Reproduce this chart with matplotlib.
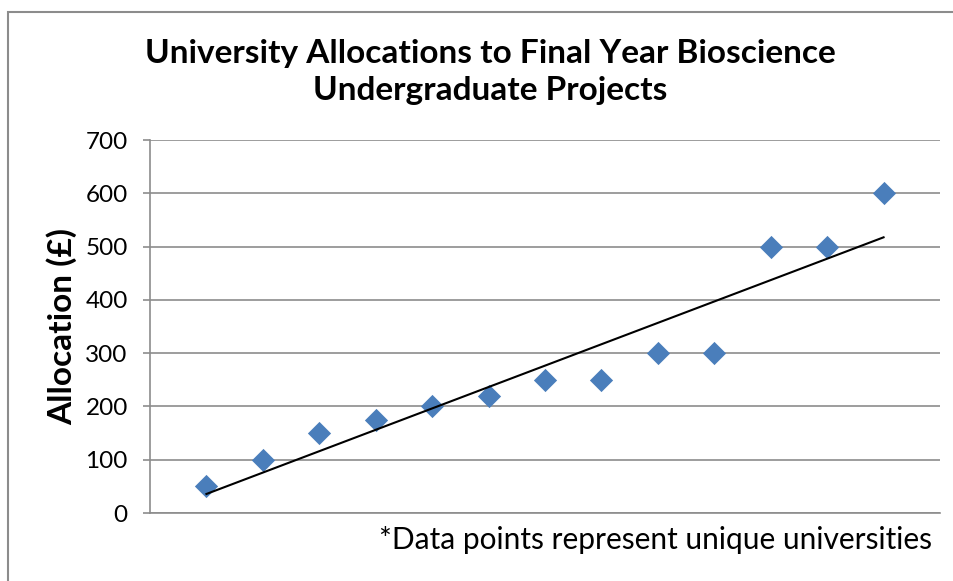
import matplotlib
matplotlib.use("Agg")
import matplotlib.pyplot as plt
import numpy as np
from matplotlib.patches import Rectangle

plt.rcParams['font.family'] = ['Lato', 'DejaVu Sans']

x_index = list(range(1, 14))
allocations = [50, 100, 150, 175, 200, 220, 250, 250, 300, 300, 500, 500, 600]
y_ticks = [0, 100, 200, 300, 400, 500, 600, 700]

title = "University Allocations to Final Year Bioscience\nUndergraduate Projects"
ylabel = "Allocation (£)"
note = "*Data points represent unique universities"

fig = plt.figure(figsize=(9.54, 5.81), dpi=100)
fig.patches.append(Rectangle((8/954, -0.1), 1.2, 1.1 - 12/581, transform=fig.transFigure,
                             fill=False, edgecolor='#8c8c8c', linewidth=1.5))
ax = fig.add_axes([150/954, 1-513/581, (940-150)/954, (513-140)/581])

ax.set_xlim(0, 14)
ax.set_ylim(0, 700)
ax.set_yticks(y_ticks)
ax.set_xticks([])
ax.grid(axis='y', color='#8c8c8c', linewidth=1.2)
ax.set_axisbelow(True)
for s in ['top', 'right']:
    ax.spines[s].set_visible(False)
for s in ['left', 'bottom']:
    ax.spines[s].set_color('#8c8c8c')
    ax.spines[s].set_linewidth(1.2)
ax.tick_params(axis='y', direction='out', length=5, width=1.2, color='#8c8c8c',
               labelsize=17.5, pad=11)

ax.scatter(x_index, allocations, marker='D', s=140, color='#4a7ebb', zorder=3, linewidths=0)

coef = np.polyfit(x_index, allocations, 1)
xs = np.array([x_index[0], x_index[-1]])
ax.plot(xs, np.polyval(coef, xs), color='black', linewidth=1.5, zorder=4)

ax.set_ylabel(ylabel, fontsize=24, fontweight='bold')
ax.yaxis.set_label_coords((77-150)/790, 0.5)
fig.text(490/954, 1-72/581, title, ha='center', va='center', fontsize=24,
         fontweight='bold', linespacing=1.33)
fig.text(932/954, 1-540/581, note, ha='right', va='center', fontsize=21.5)

fig.savefig("out.png", dpi=100)
